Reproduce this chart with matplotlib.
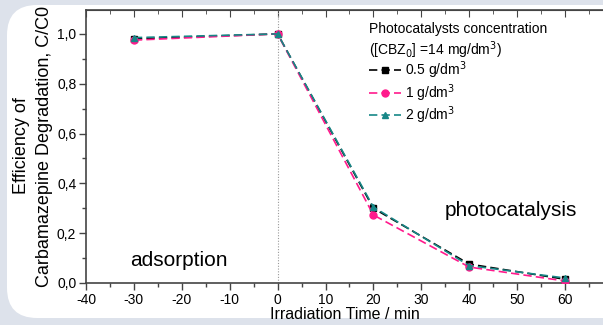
import matplotlib
matplotlib.use("Agg")
import matplotlib.pyplot as plt
from matplotlib.patches import FancyBboxPatch
from matplotlib.ticker import MultipleLocator, FuncFormatter

plt.rcParams["font.family"] = ["Liberation Sans", "DejaVu Sans"]
plt.rcParams["axes.unicode_minus"] = False

time_min = [-30, 0, 20, 40, 60]
conc_05 = [0.980, 1.000, 0.300, 0.076, 0.015]
conc_1 = [0.975, 1.000, 0.273, 0.064, 0.008]
conc_2 = [0.985, 1.000, 0.305, 0.070, 0.020]
series_labels = ["0.5 g/dm$^3$", "1 g/dm$^3$", "2 g/dm$^3$"]

W, H = 603, 325
fig = plt.figure(figsize=(W / 100, H / 100), dpi=100)
fig.patch.set_facecolor("#dde2eb")

# white rounded panel behind the chart
panel = FancyBboxPatch((7 / W, 7 / H), 1.2, (H - 12) / H,
                       boxstyle="round,pad=0,rounding_size=0.05",
                       transform=fig.transFigure, facecolor="white",
                       edgecolor="none", zorder=-5, mutation_aspect=W / H)
fig.patches.append(panel)

ax = fig.add_axes([86 / W, 1 - 283 / H, (W - 86) / W, (283 - 10) / H])
ax.set_facecolor("none")
ax.set_zorder(2)

dash = (0, (5, 2.5))
ax.plot(time_min, conc_05, ls=dash, color="black", lw=1.2,
        marker="s", ms=4.5, label=series_labels[0], zorder=3)
ax.plot(time_min, conc_1, ls=dash, color="#ff1a8c", lw=1.2,
        marker="o", ms=5, label=series_labels[1], zorder=3)
ax.plot(time_min, conc_2, ls=dash, color="#178787", lw=1.2,
        marker="^", ms=5, label=series_labels[2], zorder=4)

ax.axvline(0, color="#9a9a9a", lw=0.8, ls=(0, (1, 1.5)), zorder=1)

ax.set_xlim(-40, -40 + (W - 86) / 4.79)
ax.set_ylim(0, 1.096)

ax.xaxis.set_major_locator(MultipleLocator(10))
ax.xaxis.set_minor_locator(MultipleLocator(5))
ax.yaxis.set_major_locator(MultipleLocator(0.2))
ax.yaxis.set_minor_locator(MultipleLocator(0.1))
ax.yaxis.set_major_formatter(FuncFormatter(lambda v, p: f"{v:.1f}".replace(".", ",")))

for s in ["left", "bottom", "top"]:
    ax.spines[s].set_color("#444444")
    ax.spines[s].set_linewidth(1.2)
ax.spines["right"].set_visible(False)

ax.tick_params(which="both", direction="out", color="#444444",
               width=1.0, labelsize=10, pad=2)
ax.tick_params(which="major", length=5)
ax.tick_params(which="minor", length=3)

# top axis ticks pointing inward
ax_top = ax.secondary_xaxis("top")
ax_top.xaxis.set_major_locator(MultipleLocator(10))
ax_top.xaxis.set_minor_locator(MultipleLocator(5))
ax_top.tick_params(which="both", direction="in", labeltop=False, color="#444444")
ax_top.tick_params(which="major", length=5)
ax_top.tick_params(which="minor", length=3)
ax_top.spines["top"].set_color("#444444")

ax.set_xlabel("Irradiation Time / min", fontsize=11.5, labelpad=0)
fig.text(33 / W, 1 - 146 / H, "Efficiency of\nCarbamazepine Degradation, C/C0",
         rotation=90, ha="center", va="center", multialignment="center",
         fontsize=13, linespacing=1.4)

ax.text(-30.8, 0.092, "adsorption", fontsize=15, va="center")
ax.text(34.9, 0.293, "photocatalysis", fontsize=15, va="center")

leg = ax.legend(loc="upper left", bbox_to_anchor=(283 / (W - 86), 0.955),
                title="Photocatalysts concentration\n([CBZ$_0$] =14 mg/dm$^3$)",
                frameon=False, fontsize=10, title_fontsize=10, handlelength=2.3,
                handletextpad=0.3, labelspacing=0.05, borderpad=0, borderaxespad=0)
leg._legend_box.align = "left"
leg._legend_box.sep = -1

fig.savefig("out.png", dpi=100, facecolor=fig.get_facecolor())
